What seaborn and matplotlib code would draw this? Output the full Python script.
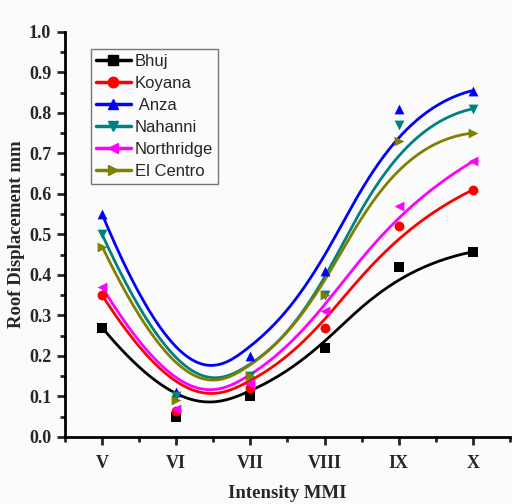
import numpy as np
import pandas as pd
import matplotlib
matplotlib.use("Agg")
import matplotlib.pyplot as plt
import seaborn as sns
from matplotlib.ticker import MultipleLocator

intensity = [5, 6, 7, 8, 9, 10]
tick_labels = ["V", "VI", "VII", "VIII", "IX", "X"]
bhuj = [0.27, 0.05, 0.10, 0.22, 0.42, 0.457]
koyana = [0.35, 0.065, 0.12, 0.27, 0.52, 0.61]
anza = [0.55, 0.11, 0.20, 0.41, 0.81, 0.855]
nahanni = [0.50, 0.10, 0.15, 0.35, 0.77, 0.81]
northridge = [0.37, 0.07, 0.13, 0.31, 0.57, 0.68]
el_centro = [0.47, 0.09, 0.15, 0.35, 0.73, 0.75]

series = [("Bhuj", bhuj), ("Koyana", koyana), (" Anza", anza),
          ("Nahanni", nahanni), ("Northridge", northridge), ("El Centro", el_centro)]
colors = ["#000000", "#ff0000", "#0000ff", "#008080", "#ff00ff", "#808000"]
markers = ["s", "o", "^", "v", "<", ">"]


def bspline_basis(i, k, t, knots):
    if k == 0:
        res = ((knots[i] <= t) & (t < knots[i + 1])).astype(float)
        if knots[i + 1] == knots[-1] and knots[i] < knots[i + 1]:
            res[t == knots[-1]] = 1.0
        return res
    out = np.zeros_like(t)
    d1 = knots[i + k] - knots[i]
    if d1 > 0:
        out += (t - knots[i]) / d1 * bspline_basis(i, k - 1, t, knots)
    d2 = knots[i + k + 1] - knots[i + 1]
    if d2 > 0:
        out += (knots[i + k + 1] - t) / d2 * bspline_basis(i + 1, k - 1, t, knots)
    return out


def bspline_curve(px, py, deg=3, num=300):
    n = len(px)
    inner = list(range(1, n - deg))
    knots = np.array([0.0] * (deg + 1) + inner + [float(n - deg)] * (deg + 1))
    t = np.linspace(0, n - deg, num)
    bx = np.zeros(num)
    by = np.zeros(num)
    for i in range(n):
        b = bspline_basis(i, deg, t, knots)
        bx += b * px[i]
        by += b * py[i]
    return bx, by


sns.set_style("white")
fig = plt.figure(figsize=(5.12, 5.04), dpi=100)
fig.patch.set_facecolor("#fbfbfb")
ax = fig.add_axes([0.127, 0.133, 0.869, 0.804])
ax.set_facecolor("#fbfbfb")

rows = []
for name, vals in series:
    for x, y in zip(intensity, vals):
        rows.append({"series": name, "x": x, "y": y})
df = pd.DataFrame(rows)

handles = []
for (name, vals), c, m in zip(series, colors, markers):
    sub = df[df["series"] == name]
    sns.scatterplot(data=sub, x="x", y="y", ax=ax, color=c, marker=m, s=50,
                    edgecolor=c, linewidth=0, legend=False, zorder=3)
    bx, by = bspline_curve(np.array(intensity, float), np.array(vals, float))
    ax.plot(bx, by, color=c, linewidth=2, zorder=2)
    h, = ax.plot([], [], color=c, marker=m, markersize=7.5, linewidth=2.5, label=name)
    handles.append(h)

ax.set_xlim(4.5, 10.5)
ax.set_ylim(0, 1.0)
ax.set_xticks(intensity)
ax.set_xticklabels(tick_labels)
ax.xaxis.set_minor_locator(MultipleLocator(0.5))
ax.yaxis.set_major_locator(MultipleLocator(0.1))
ax.yaxis.set_minor_locator(MultipleLocator(0.05))
ax.yaxis.set_major_formatter(matplotlib.ticker.FormatStrFormatter("%.1f"))

for s in ["top", "right"]:
    ax.spines[s].set_visible(False)
for s in ["left", "bottom"]:
    ax.spines[s].set_linewidth(2)
    ax.spines[s].set_color("black")

ax.tick_params(which="major", direction="out", length=6, width=2, left=True, bottom=True)
ax.tick_params(which="minor", direction="out", length=3.5, width=2, left=True, bottom=True)
for lab in ax.get_xticklabels() + ax.get_yticklabels():
    lab.set_family("Liberation Serif")
    lab.set_fontweight("bold")
    lab.set_fontsize(13)
ax.tick_params(axis="x", pad=7)
ax.tick_params(axis="y", pad=4)

ax.set_xlabel("Intensity MMI", family="Liberation Serif", fontweight="bold", fontsize=13.5, labelpad=9)
ax.set_ylabel("Roof Displacement mm", family="Liberation Serif", fontweight="bold", fontsize=13.5, labelpad=3)

leg = ax.legend(handles=handles, loc="upper left", bbox_to_anchor=(0.05, 0.965),
                prop={"family": "Liberation Sans", "size": 12}, frameon=True,
                fancybox=False, edgecolor="#555555", handlelength=2.1,
                handletextpad=0.25, labelspacing=0.42, borderpad=0.3,
                borderaxespad=0.2)
leg.get_frame().set_linewidth(1)
leg.get_frame().set_facecolor("#fbfbfb")

fig.savefig("out.png", dpi=100, facecolor=fig.get_facecolor())
